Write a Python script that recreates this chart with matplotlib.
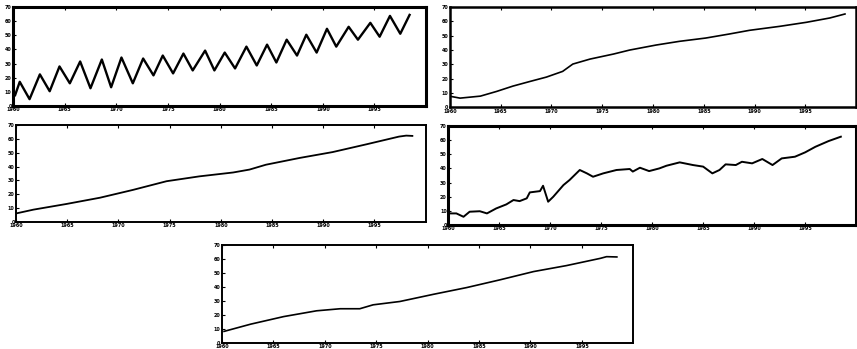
import numpy as np
import matplotlib.pyplot as plt

# values, in percent of each panel's height
t1 = [1960.2, 1960.65, 1961.6, 1962.6, 1963.55, 1964.5, 1965.5, 1966.5, 1967.5, 1968.6,
      1969.5, 1970.5, 1971.6, 1972.6, 1973.6, 1974.5, 1975.5, 1976.5, 1977.4, 1978.6,
      1979.5, 1980.5, 1981.5, 1982.6, 1983.6, 1984.6, 1985.5, 1986.5, 1987.5, 1988.4,
      1989.4, 1990.4, 1991.3, 1992.5, 1993.4, 1994.6, 1995.5, 1996.5, 1997.5, 1998.4]
v1 = [11, 24.5, 7, 32, 15, 40, 23, 45, 18, 47,
      19, 49, 23, 48, 31, 51, 33, 53, 36, 56,
      36, 54, 38, 60, 41, 62, 44, 67, 51, 72,
      54, 78, 60, 80, 67, 84, 70, 91, 73, 92]

t2 = [1960.1, 1961.0, 1963.0, 1964.6, 1966.2, 1967.9, 1969.5, 1971.1, 1972.1, 1973.8,
      1976.1, 1977.7, 1980.3, 1982.6, 1985.2, 1987.5, 1989.5, 1992.5, 1995.1, 1997.4, 1998.9]
v2 = [10.7, 9, 11, 15.7, 21, 25.7, 30, 35.7, 43, 48,
      53, 57, 62, 65.7, 69, 73, 76.7, 80.7, 84.7, 89, 93]

t3 = [1960.1, 1961.7, 1964.9, 1968.2, 1971.4, 1974.7, 1977.9, 1981.2, 1982.8, 1984.4,
      1987.7, 1990.9, 1994.2, 1997.4, 1998.1, 1998.7]
v3 = [9, 12.7, 18.5, 25, 33, 42, 47, 51, 54, 59,
      66, 72, 80, 88, 89, 88.7]

t4 = [1960.2, 1960.8, 1961.5, 1962.1, 1963.1, 1963.8, 1964.7, 1965.7, 1966.4, 1967.0,
      1967.7, 1968.0, 1969.0, 1969.3, 1969.8, 1970.3, 1971.3, 1971.9, 1972.9, 1973.6,
      1974.2, 1975.2, 1976.5, 1977.8, 1978.1, 1978.8, 1979.7, 1980.7, 1981.4, 1982.7,
      1984.0, 1985.0, 1985.9, 1986.6, 1987.2, 1988.2, 1988.8, 1989.8, 1990.8, 1991.8,
      1992.7, 1994.0, 1995.0, 1996.0, 1997.3, 1998.5]
v4 = [11.8, 11.8, 8.4, 13.5, 14, 11.8, 16.8, 20.9, 25.3, 24.2,
      27, 33, 34.3, 39.7, 23.6, 28.6, 40.4, 45.5, 55.6, 52.2,
      48.8, 52.2, 55.6, 56.6, 54, 57.9, 54.5, 57.2, 59.9, 63.3,
      60.6, 59, 52.2, 55.6, 61.3, 60.6, 63.9, 62.3, 66.7, 60.6,
      67.3, 69, 73.4, 79, 84.8, 89.2]

t5 = [1960.2, 1962.8, 1966.0, 1969.2, 1971.5, 1973.4, 1974.7, 1977.3, 1980.6, 1983.8,
      1987.0, 1990.3, 1993.5, 1996.8, 1997.4, 1998.4]
v5 = [11.9, 19.3, 27, 32.9, 35, 35, 39, 42.4, 49.8, 56.6,
      64.4, 72.9, 79, 86.4, 88.1, 87.8]

xtick_years = [1960, 1965, 1970, 1975, 1980, 1985, 1990, 1995]
ytick_labels = ['0', '10', '20', '30', '40', '50', '60', '70']

fig = plt.figure(figsize=(8.57, 3.49), dpi=100)

# panel boxes in figure fractions
boxes = [
    [0.0152, 0.696, 0.482, 0.284],
    [0.525, 0.693, 0.474, 0.287],
    [0.0187, 0.364, 0.478, 0.278],
    [0.523, 0.355, 0.476, 0.284],
    [0.259, 0.017, 0.480, 0.281],
]
series = [(t1, v1, 1.7), (t2, v2, 1.2), (t3, v3, 1.3), (t4, v4, 1.4), (t5, v5, 1.2)]
spine_w = [2.2, 1.8, 1.4, 2.2, 1.4]

for box, (t, v, lw), sw in zip(boxes, series, spine_w):
    ax = fig.add_axes(box)
    ax.plot(t, v, color='black', linewidth=lw, solid_joinstyle='round')
    ax.set_xlim(1960, 2000)
    ax.set_ylim(0, 100)
    ax.set_xticks(xtick_years)
    ax.set_xticklabels([str(y) for y in xtick_years], fontsize=3.5, fontweight='bold')
    ax.set_yticks(np.linspace(0, 100, 8))
    ax.set_yticklabels(ytick_labels, fontsize=3.5, fontweight='bold')
    ax.tick_params(direction='in', length=2, width=0.8, pad=1, top=True)
    for s in ax.spines.values():
        s.set_linewidth(sw)
        s.set_color('black')

fig.savefig('out.png', dpi=100)
